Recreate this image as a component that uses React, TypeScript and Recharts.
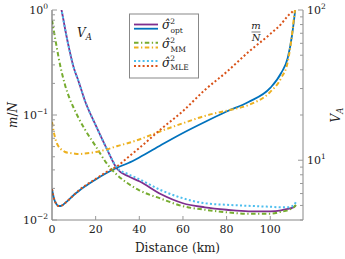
import React from 'react';
import { ComposedChart, Line, XAxis, YAxis } from 'recharts';

// distance along the link (km)
const distanceKm = [0, 1, 2, 3, 4, 5, 6, 8, 10, 12, 15, 20, 25, 30, 35, 40, 50, 60, 70, 80, 90, 100, 105, 108, 110, 111, 111.7];

// V_A curves (right axis)
const vaOpt = [293, 200, 147, 122, 106, 89.8, 74.7, 54.1, 41.1, 34.1, 25.1, 17.1, 12.0, 8.71, 7.82, 7.24, 5.93, 5.17, 4.86, 4.68, 4.57, 4.57, 4.64, 4.75, 4.82, 4.9, 5.01];
const vaMM = [85.8, 70.3, 58.4, 48.6, 41.1, 35.8, 31.6, 25.9, 22.2, 19.3, 16.1, 12.4, 9.55, 7.94, 6.97, 6.31, 5.54, 4.94, 4.68, 4.5, 4.4, 4.4, 4.54, 4.64, 4.79, 4.9, 5.05];
const vaMLE = [293, 200, 147, 122, 106, 89.8, 74.7, 54.1, 41.1, 34.1, 25.1, 17.1, 12.0, 8.84, 8.07, 7.47, 6.31, 5.58, 5.17, 5.05, 4.97, 4.9, 4.86, 4.86, 4.94, 5.05, 5.25];

// m/N curves (left axis)
const mnOpt = [0.0197, 0.0158, 0.0142, 0.0136, 0.0136, 0.0139, 0.0145, 0.0158, 0.0173, 0.0187, 0.0208, 0.0243, 0.028, 0.0316, 0.0349, 0.0394, 0.0518, 0.0674, 0.0858, 0.108, 0.133, 0.181, 0.251, 0.349, 0.578, 0.839, 1.12];
const mnMM = [0.0858, 0.0659, 0.0553, 0.0501, 0.0475, 0.0459, 0.0444, 0.0435, 0.043, 0.0425, 0.043, 0.0444, 0.0469, 0.0507, 0.0541, 0.0585, 0.0705, 0.0835, 0.098, 0.11, 0.1245, 0.166, 0.225, 0.32, 0.591, 0.896, 1.12];
const mnMLE = [0.0197, 0.0158, 0.0142, 0.0136, 0.0136, 0.0139, 0.0145, 0.0158, 0.0173, 0.0189, 0.0211, 0.0246, 0.0287, 0.0327, 0.0398, 0.0485, 0.0736, 0.109, 0.173, 0.257, 0.398, 0.591, 0.736, 0.877, 0.957, 1.01, 1.05];

const xTicks = [0, 20, 40, 60, 80, 100];
const mnTicks = [0.01, 0.02, 0.03, 0.04, 0.05, 0.06, 0.07, 0.08, 0.09, 0.1, 0.2, 0.3, 0.4, 0.5, 0.6, 0.7, 0.8, 0.9, 1];
const vaTicks = [4, 5, 6, 7, 8, 9, 10, 20, 30, 40, 50, 60, 70, 80, 90, 100];

const SERIF = "'DejaVu Serif', serif";
const TXT = { fontFamily: SERIF, fill: '#222', fontWeight: 400 };
const TICK = '#999';

const expOf = (v: number) => Math.round(Math.log10(v));
const isMajor = (v: number) => Math.abs(Math.log10(v) - expOf(v)) < 1e-6;
const expText = (v: number) => String(expOf(v)).replace('-', '\u2212');

function LeftTick({ x, y, payload }: any) {
  const v = payload.value;
  const major = isMajor(v);
  return (
    <g>
      <line x1={x} x2={x + (major ? 5 : 3)} y1={y} y2={y} stroke={TICK} />
      {major && (
        <text x={x - 4} y={y + 4} textAnchor="end" fontSize={11} style={TXT}>
          10<tspan dy={-5} fontSize={7.5}>{expText(v)}</tspan>
        </text>
      )}
    </g>
  );
}

function RightTick({ x, y, payload }: any) {
  const v = payload.value;
  const major = isMajor(v);
  return (
    <g>
      <line x1={x} x2={x - (major ? 5 : 3)} y1={y} y2={y} stroke={TICK} />
      {major && (
        <text x={x + 4} y={y + 4} textAnchor="start" fontSize={11} style={TXT}>
          10<tspan dy={-5} fontSize={7.5}>{expText(v)}</tspan>
        </text>
      )}
    </g>
  );
}

function BottomTick({ x, y, payload }: any) {
  return (
    <g>
      {payload.value !== 0 && <line x1={x} x2={x} y1={y} y2={y - 4} stroke={TICK} />}
      <text x={x} y={y + 13} textAnchor="middle" fontSize={11} style={TXT}>
        {payload.value}
      </text>
    </g>
  );
}

const C = {
  opt1: '#7E2F8E',
  opt2: '#0072BD',
  mm1: '#77AC30',
  mm2: '#EDB120',
  mle1: '#4DBEEE',
  mle2: '#D95319',
};
const DASHDOT = '4.5 2.5 1.3 2.5';
const DOTTED = '2 2.3';

function Sigma({ x, y, sub }: { x: number; y: number; sub: string }) {
  return (
    <text x={x} y={y} fontSize={12} style={TXT}>
      <tspan fontStyle="italic">σ̂</tspan>
      <tspan dy={-5.5} fontSize={7.5}>2</tspan>
      <tspan dx={-4.5} dy={9} fontSize={7.5}>{sub}</tspan>
    </text>
  );
}

export default function App() {
  const data = distanceKm.map((d, i) => ({
    d,
    vaOpt: vaOpt[i],
    vaMM: vaMM[i],
    vaMLE: vaMLE[i],
    mnOpt: mnOpt[i],
    mnMM: mnMM[i],
    mnMLE: mnMLE[i],
  }));

  return (
    <div style={{ position: 'absolute', left: 0, top: 0, width: 345, height: 259, background: '#fff' }}>
      <ComposedChart width={345} height={259} data={data} margin={{ top: 10, right: 0, bottom: 0, left: 0 }}>
        <XAxis
          dataKey="d"
          type="number"
          domain={[0, 115]}
          ticks={xTicks}
          interval={0}
          allowDataOverflow
          height={39}
          tickSize={0}
          tickMargin={0}
          tickLine={false}
          axisLine={{ stroke: '#888' }}
          tick={(p: any) => <BottomTick {...p} />}
        />
        <YAxis
          yAxisId="mn"
          orientation="left"
          scale="log"
          domain={[0.01, 1]}
          ticks={mnTicks}
          interval={0}
          allowDataOverflow
          width={52}
          tickSize={0}
          tickMargin={0}
          tickLine={false}
          axisLine={{ stroke: '#555' }}
          tick={(p: any) => <LeftTick {...p} />}
        />
        <YAxis
          yAxisId="va"
          orientation="right"
          scale="log"
          domain={[4, 100]}
          ticks={vaTicks}
          interval={0}
          allowDataOverflow
          width={42}
          tickSize={0}
          tickMargin={0}
          tickLine={false}
          axisLine={{ stroke: '#888' }}
          tick={(p: any) => <RightTick {...p} />}
        />
        <Line yAxisId="va" type="monotone" dataKey="vaOpt" stroke={C.opt1} strokeWidth={1.8} dot={false} isAnimationActive={false} />
        <Line yAxisId="mn" type="monotone" dataKey="mnOpt" stroke={C.opt2} strokeWidth={1.8} dot={false} isAnimationActive={false} />
        <Line yAxisId="va" type="monotone" dataKey="vaMM" stroke={C.mm1} strokeWidth={2} strokeDasharray={DASHDOT} dot={false} isAnimationActive={false} />
        <Line yAxisId="mn" type="monotone" dataKey="mnMM" stroke={C.mm2} strokeWidth={2} strokeDasharray={DASHDOT} dot={false} isAnimationActive={false} />
        <Line yAxisId="va" type="monotone" dataKey="vaMLE" stroke={C.mle1} strokeWidth={2} strokeDasharray={DOTTED} dot={false} isAnimationActive={false} />
        <Line yAxisId="mn" type="monotone" dataKey="mnMLE" stroke={C.mle2} strokeWidth={2} strokeDasharray={DOTTED} dot={false} isAnimationActive={false} />
      </ComposedChart>

      <svg width={345} height={259} style={{ position: 'absolute', left: 0, top: 0, pointerEvents: 'none' }}>
        {/* axis titles */}
        <text transform="translate(17,115) rotate(-90)" textAnchor="middle" fontSize={12} style={TXT}>
          <tspan fontStyle="italic">m</tspan>/<tspan fontStyle="italic">N</tspan>
        </text>
        <text transform="translate(340,115) rotate(-90)" textAnchor="middle" fontSize={12} style={TXT}>
          <tspan fontStyle="italic">V</tspan>
          <tspan dy={2.5} fontSize={8.5} fontStyle="italic">A</tspan>
        </text>
        <text x={177.5} y={252} textAnchor="middle" fontSize={12} style={TXT}>
          Distance (km)
        </text>

        {/* curve annotations */}
        <text x={77} y={37} fontSize={12} style={TXT}>
          <tspan fontStyle="italic">V</tspan>
          <tspan dy={2.5} fontSize={8.5} fontStyle="italic">A</tspan>
        </text>
        <text x={256} y={29} textAnchor="middle" fontSize={10} fontStyle="italic" style={TXT}>m</text>
        <line x1={251.5} x2={260.5} y1={32} y2={32} stroke="#222" strokeWidth={0.6} />
        <text x={256} y={41} textAnchor="middle" fontSize={10} fontStyle="italic" style={TXT}>N</text>

        {/* legend */}
        <rect x={129.5} y={14} width={69} height={64} fill="#fff" stroke="#888" strokeWidth={1} />
        <line x1={134} x2={158} y1={24.5} y2={24.5} stroke={C.opt1} strokeWidth={1.8} />
        <line x1={134} x2={158} y1={28.7} y2={28.7} stroke={C.opt2} strokeWidth={1.8} />
        <line x1={134} x2={158} y1={42.7} y2={42.7} stroke={C.mm1} strokeWidth={2} strokeDasharray={DASHDOT} />
        <line x1={134} x2={158} y1={47.5} y2={47.5} stroke={C.mm2} strokeWidth={2} strokeDasharray={DASHDOT} />
        <line x1={134} x2={158} y1={61} y2={61} stroke={C.mle1} strokeWidth={2} strokeDasharray={DOTTED} />
        <line x1={134} x2={158} y1={66} y2={66} stroke={C.mle2} strokeWidth={2} strokeDasharray={DOTTED} />
        <Sigma x={162} y={29} sub="opt" />
        <Sigma x={162} y={48} sub="MM" />
        <Sigma x={162} y={66.5} sub="MLE" />
      </svg>
    </div>
  );
}
